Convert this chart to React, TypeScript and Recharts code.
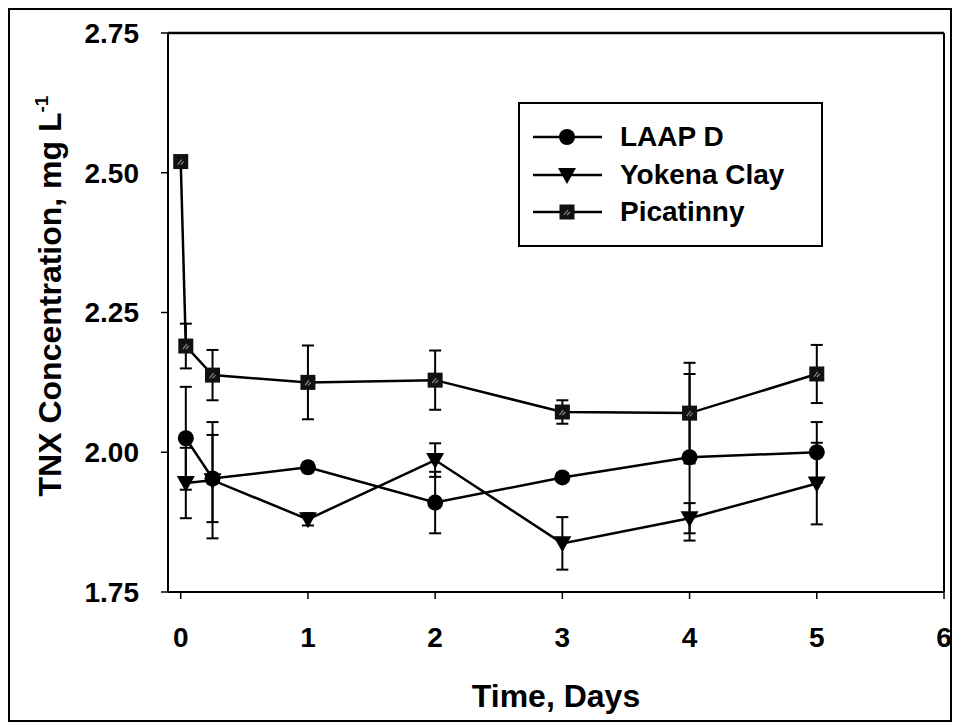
import {
  LineChart,
  Line,
  XAxis,
  YAxis,
  ErrorBar,
  Legend,
  ReferenceLine,
  Label,
} from "recharts";

const days = [0, 0.04, 0.25, 1, 2, 3, 4, 5];
const laapD = [null, 2.025, 1.953, 1.973, 1.91, 1.955, 1.991, 2.0];
const laapDErr = [null, 0.092, 0.078, 0.009, 0.055, 0.008, 0.149, 0.054];
const yokenaClay = [null, 1.945, 1.95, 1.88, 1.986, 1.837, 1.882, 1.944];
const yokenaClayErr = [null, 0.063, 0.104, 0.011, 0.03, 0.047, 0.027, 0.073];
const picatinny = [2.52, 2.19, 2.138, 2.125, 2.129, 2.072, 2.07, 2.14];
const picatinnyErr = [0, 0.04, 0.045, 0.066, 0.053, 0.021, 0.09, 0.052];

const xTicks = [0, 1, 2, 3, 4, 5, 6];
const yTicks = [1.75, 2.0, 2.25, 2.5, 2.75];

const series = [
  { key: "laap", name: "LAAP D", shape: "circle" },
  { key: "yokena", name: "Yokena Clay", shape: "triangle" },
  { key: "pica", name: "Picatinny", shape: "square" },
];

const data = days.map((d, i) => ({
  day: d,
  laap: laapD[i],
  laapErr: laapDErr[i],
  yokena: yokenaClay[i],
  yokenaErr: yokenaClayErr[i],
  pica: picatinny[i],
  picaErr: picatinnyErr[i],
}));

const FONT = "'Liberation Sans', Arial, Helvetica, sans-serif";

function Marker({ shape, cx, cy }: { shape: string; cx: number; cy: number }) {
  if (shape === "circle") return <circle cx={cx} cy={cy} r={8} fill="#000" />;
  if (shape === "triangle")
    return (
      <polygon
        points={`${cx - 9},${cy - 7} ${cx + 9},${cy - 7} ${cx},${cy + 9}`}
        fill="#000"
      />
    );
  return (
    <g>
      <rect x={cx - 7.5} y={cy - 7.5} width={15} height={15} fill="#111" />
      <path
        d={`M${cx - 3},${cy + 3} L${cx + 1},${cy - 2} M${cx},${cy + 3} L${cx + 3},${cy}`}
        stroke="#888"
        strokeWidth={1.2}
      />
    </g>
  );
}

const dotFor = (shape: string) => (props: any) => {
  const { cx, cy, index, value } = props;
  if (value == null || cx == null || cy == null) return <g key={`e-${shape}-${index}`} />;
  return (
    <g key={`d-${shape}-${index}`}>
      <Marker shape={shape} cx={cx} cy={cy} />
    </g>
  );
};

function LegendBox() {
  return (
    <div
      style={{
        width: 305,
        height: 145,
        border: "2px solid #000",
        boxSizing: "border-box",
        background: "#fff",
        fontFamily: FONT,
        fontWeight: "bold",
        fontSize: 28,
        position: "relative",
      }}
    >
      {series.map((s, i) => (
        <div
          key={s.key}
          style={{
            position: "absolute",
            left: 0,
            top: 33 + i * 37.5 - 18,
            height: 36,
            display: "flex",
            alignItems: "center",
          }}
        >
          <svg width={100} height={36} style={{ display: "block" }}>
            <line x1={13} y1={18} x2={82} y2={18} stroke="#000" strokeWidth={2.5} />
            <Marker shape={s.shape} cx={47} cy={18} />
          </svg>
          <span style={{ lineHeight: "36px", whiteSpace: "nowrap" }}>{s.name}</span>
        </div>
      ))}
    </div>
  );
}

const yLabel = () => (
  <text
    x={53}
    y={288}
    transform="rotate(-90, 53, 288)"
    textAnchor="middle"
    fontFamily={FONT}
    fontWeight="bold"
    fontSize={32}
    fill="#000"
  >
    TNX Concentration, mg L
    <tspan dy={-13} fontSize={19}>
      -1
    </tspan>
  </text>
);

const xLabel = (props: any) => {
  const { viewBox } = props;
  return (
    <text
      x={viewBox.x + viewBox.width / 2}
      y={viewBox.y + 115}
      textAnchor="middle"
      fontFamily={FONT}
      fontWeight="bold"
      fontSize={32}
      fill="#000"
    >
      Time, Days
    </text>
  );
};

const tickStyle = { fontFamily: FONT, fontWeight: "bold", fontSize: 28, fill: "#000" };

export default function App() {
  return (
    <div style={{ position: "relative", width: 954, height: 726, background: "#fff" }}>
      <style>{`body { margin: 0; }`}</style>
      <div style={{ position: "absolute", left: 8, top: 8 }}>
        <LineChart
          width={944}
          height={714}
          data={data}
          margin={{ top: 25, right: 8, left: 0, bottom: 0 }}
          style={{ overflow: "visible" }}
        >
          <XAxis
            dataKey="day"
            type="number"
            domain={[-0.1, 6]}
            ticks={xTicks}
            allowDataOverflow
            height={130}
            tickSize={7}
            tickMargin={28}
            tick={tickStyle}
            axisLine={{ stroke: "#000", strokeWidth: 2 }}
            tickLine={{ stroke: "#000", strokeWidth: 1.5 }}
          >
            <Label content={xLabel} />
          </XAxis>
          <YAxis
            type="number"
            domain={[1.75, 2.75]}
            ticks={yTicks}
            allowDataOverflow
            width={160}
            tickSize={7}
            tickMargin={22}
            tick={tickStyle}
            tickFormatter={(v: number) => v.toFixed(2)}
            axisLine={{ stroke: "#000", strokeWidth: 2 }}
            tickLine={{ stroke: "#000", strokeWidth: 1.5 }}
          >
            <Label content={yLabel} />
          </YAxis>
          <ReferenceLine y={2.75} stroke="#000" strokeWidth={2.5} />
          <ReferenceLine x={6} stroke="#000" strokeWidth={2} />
          {series.map((s) => (
            <Line
              key={s.key}
              dataKey={s.key}
              name={s.name}
              stroke="#000"
              strokeWidth={2.5}
              dot={dotFor(s.shape)}
              activeDot={false}
              isAnimationActive={false}
            >
              <ErrorBar
                dataKey={`${s.key}Err`}
                direction="y"
                width={6}
                stroke="#000"
                strokeWidth={2}
              />
            </Line>
          ))}
          <Legend
            layout="horizontal"
            verticalAlign="middle"
            align="center"
            content={() => <LegendBox />}
            wrapperStyle={{ position: "absolute", left: 510, top: 94, width: 305, height: 145 }}
          />
        </LineChart>
      </div>
      <div
        style={{
          position: "absolute",
          left: 8,
          top: 8,
          width: 944,
          height: 714,
          boxSizing: "border-box",
          border: "2px solid #000",
          pointerEvents: "none",
        }}
      />
    </div>
  );
}
